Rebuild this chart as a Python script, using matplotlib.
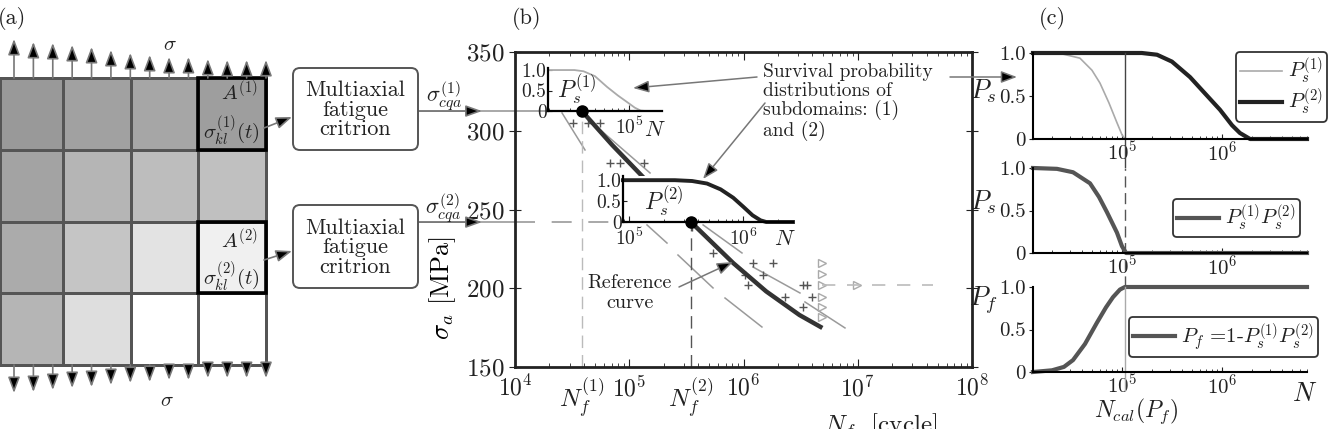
import numpy as np
import matplotlib
matplotlib.use('Agg')
import matplotlib.pyplot as plt
import matplotlib.transforms as mtransforms
from matplotlib.patches import FancyBboxPatch, Rectangle
from matplotlib.ticker import LogLocator, NullFormatter

plt.rcParams['mathtext.fontset'] = 'cm'
plt.rcParams['font.family'] = ['cmr10', 'DejaVu Serif']
plt.rcParams['axes.formatter.use_mathtext'] = True
plt.rcParams['text.color'] = '#222222'
plt.rcParams['xtick.color'] = '#222222'
plt.rcParams['ytick.color'] = '#222222'

# ---- data -------------------------------------------------------------
# (a) grey level of each subdomain, row 0 at the top
cell_grey = [[0.60, 0.63, 0.65, 0.62],
             [0.64, 0.71, 0.74, 0.75],
             [0.67, 0.77, 0.89, 0.94],
             [0.71, 0.87, 1.00, 1.00]]
# length of the load arrows along the top / bottom edge (left to right)
top_load = [39, 36, 35, 33, 31, 28, 25, 23, 21, 21, 19, 18, 18, 18]
bottom_load = [28, 27, 25, 23, 22, 20, 18, 17, 15, 15, 13, 13, 13, 13]

# (b) S-N diagram
ref_N = [3.85e4, 7.08e4, 1.32e5, 2.14e5, 3.47e5, 8.13e5, 1.58e6, 3.09e6, 4.9e6]
ref_sigma = [312.5, 291, 270.6, 256, 242, 216, 198, 183, 174.8]

band_N = [(5.22e4, 1.52e5), (4.43e5, 9.7e5), (1.21e6, 3.12e6), (3.45e6, 7.73e6),
          (2.58e4, 4.1e4), (1.43e5, 2.14e5), (2.67e5, 5.41e5), (6.89e5, 1.45e6)]
band_sigma = [(302.4, 273.2), (240.2, 222.4), (213.5, 197.0), (191.3, 174.8),
              (311.3, 287.8), (240.2, 228.7), (221.1, 200.2), (193.8, 175.4)]

test_N = [3.22e4, 4.36e4, 5.55e4, 6.79e4, 8.3e4, 1.35e5, 3.54e5, 5.41e5, 1.03e6,
          1.09e6, 1.21e6, 1.48e6, 1.81e6, 2.31e6, 3.32e6, 3.6e6, 3.98e6, 3.32e6]
test_sigma = [304.9, 304.9, 304.9, 279.5, 279.5, 279.5, 238.9, 222.4, 208.4,
              202.1, 216.0, 208.4, 216.0, 194.4, 202.1, 202.1, 194.4, 188.1]

runout_N = [4.87e6, 4.87e6, 4.87e6, 4.87e6, 4.87e6, 4.87e6, 9.8e6]
runout_sigma = [216.0, 209.1, 202.1, 194.4, 188.1, 181.7, 202.1]
runout_line_N = [4.9e6, 4.57e7]
runout_line_sigma = [202.1, 202.1]

N_f1, sigma1 = 3.85e4, 312.5
N_f2, sigma2 = 3.47e5, 242.0

# survival probability insets in (b)
ins1_N = [1.95e4, 3.31e4, 3.98e4, 5.01e4, 6.38e4, 7.94e4, 9.55e4, 1.12e5, 1.26e5, 1.38e5, 1.94e5]
ins1_P = [1.0, 1.0, 0.97, 0.85, 0.59, 0.38, 0.22, 0.08, 0.01, 0.0, 0.0]
ins2_N = [8.81e4, 2.51e5, 3.55e5, 4.79e5, 6.31e5, 8.13e5, 1.0e6, 1.2e6, 1.41e6, 1.58e6, 2.71e6]
ins2_P = [1.0, 1.0, 0.98, 0.92, 0.78, 0.58, 0.36, 0.16, 0.04, 0.0, 0.0]

# (c) probabilities
c_xlim = (1.29e4, 7.08e6)
ps1_N = [1.29e4, 2.51e4, 3.8e4, 5.01e4, 6.03e4, 7.41e4, 8.91e4, 1.0e5, 1.07e5, 7.08e6]
ps1 = [1.0, 0.99, 0.94, 0.8, 0.65, 0.42, 0.19, 0.05, 0.0, 0.0]
ps2_N = [1.29e4, 1.58e5, 2.24e5, 3.16e5, 4.79e5, 6.76e5, 9.55e5, 1.26e6, 1.51e6, 1.91e6, 7.08e6]
ps2 = [1.0, 1.0, 0.98, 0.9, 0.72, 0.53, 0.34, 0.16, 0.07, 0.0, 0.0]
prod_N = [1.29e4, 2.24e4, 3.24e4, 4.79e4, 5.89e4, 7.08e4, 8.91e4, 1.0e5, 1.1e5, 7.08e6]
prod = [1.0, 0.99, 0.95, 0.82, 0.66, 0.48, 0.24, 0.08, 0.0, 0.0]
pf_N = [1.29e4, 2.0e4, 2.63e4, 3.24e4, 4.27e4, 5.62e4, 6.92e4, 8.13e4, 9.55e4, 1.07e5, 7.08e6]
pf = [0.0, 0.02, 0.06, 0.14, 0.33, 0.58, 0.76, 0.88, 0.97, 1.0, 1.0]
N_cal = 1.07e5

# ---- figure -----------------------------------------------------------
W, H = 1331, 429
fig = plt.figure(figsize=(W / 100, H / 100), dpi=100)


def rect(x0, y0, x1, y1):
    # pixel box (origin top-left) -> figure fraction
    return [x0 / W, 1 - y1 / H, (x1 - x0) / W, (y1 - y0) / H]


def px_to_N(px):
    # x pixel inside panel (b) -> cycles
    return 10 ** (4 + (px - 515) / (972 - 515) * 4)


# ---- (b) main S-N axes
ax = fig.add_axes(rect(515, 52, 972, 367), zorder=1)
ax.set_xscale('log')
ax.set_xlim(1e4, 1e8)
ax.set_ylim(150, 350)
ax.set_yticks([150, 200, 250, 300, 350])
ax.xaxis.set_major_locator(LogLocator(base=10, numticks=10))
ax.xaxis.set_minor_locator(LogLocator(base=10, subs=np.arange(2, 10), numticks=20))
ax.xaxis.set_minor_formatter(NullFormatter())
for s in ax.spines.values():
    s.set_linewidth(2)
    s.set_color('#222')
ax.tick_params(axis='both', which='both', direction='in', top=True, right=True)
ax.tick_params(axis='y', which='major', direction='inout', length=8, labelsize=18)
ax.tick_params(axis='x', which='major', length=6, labelsize=17, pad=6)
ax.tick_params(axis='x', which='minor', length=3)
ax.set_ylabel(r'$\sigma_a$ [MPa]', fontsize=19)
ax.yaxis.set_label_coords(-0.125, 0.25)

for n, s in zip(band_N, band_sigma):
    ax.plot(n, s, color='#9a9a9a', lw=1.1)
ax.plot(ref_N, ref_sigma, color='#333', lw=3.2, solid_capstyle='butt', zorder=3)
ax.plot(test_N, test_sigma, '+', color='#555', ms=6, mew=1)
ax.plot(runout_N, runout_sigma, '>', mfc='none', mec='#aaa', ms=6, mew=1)
ax.plot(runout_line_N, runout_line_sigma, color='#bbb', lw=1.2, dashes=(8, 7))
ax.plot([N_f1, N_f1], [150, sigma1], color='#bbb', lw=1, dashes=(9, 5))
ax.plot([N_f2, N_f2], [150, sigma2], color='#555', lw=1, dashes=(9, 5))
ax.plot([1e4, N_f1], [sigma1, sigma1], color='#999', lw=1.2)
ax.plot([1e4, N_f2], [sigma2, sigma2], color='#999', lw=1.2, dashes=(12, 10))

blend = mtransforms.blended_transform_factory(fig.transFigure, ax.transData)
head = dict(arrowstyle='-|>,head_length=0.7,head_width=0.25', fc='k', ec='#777',
            lw=1.2, mutation_scale=14, shrinkA=0, shrinkB=0)
for sig in (sigma1, sigma2):
    ax.plot([418 / W, 515 / W], [sig, sig], transform=blend, color='#999', lw=1.2,
            clip_on=False)
    ax.annotate('', xy=(482 / W, sig), xycoords=blend, xytext=(418 / W, sig),
                textcoords=blend, arrowprops=head, annotation_clip=False)

trans_x = mtransforms.blended_transform_factory(ax.transData, ax.transAxes)
ax.text(N_f1, -0.1, r'$N_f^{(1)}$', transform=trans_x, ha='center', va='center', fontsize=18)
ax.text(N_f2, -0.1, r'$N_f^{(2)}$', transform=trans_x, ha='center', va='center', fontsize=18)
ax.text(0.8, -0.14, r'$N_f$  [cycle]', transform=ax.transAxes, ha='center', va='top',
        fontsize=18)

# ---- (b) insets
insets = [((548, 68, 662, 111), 1.05, ins1_N, ins1_P, '#aaa', 1.3, N_f1,
           r'$P_s^{(1)}$', (0.25, 0.5), (0.94, -0.45)),
          ((623, 176, 793, 222), 1.1, ins2_N, ins2_P, '#222', 2.8, N_f2,
           r'$P_s^{(2)}$', (0.24, 0.45), (0.95, -0.38))]
for box, ytop, n, p, col, lw, nf, lab, lab_xy, n_xy in insets:
    ia = fig.add_axes(rect(*box), zorder=2)
    ia.set_facecolor('white')
    ia.set_xscale('log')
    ia.set_xlim(px_to_N(box[0]), px_to_N(box[2]))
    ia.set_ylim(0, ytop)
    ia.plot(n, p, color=col, lw=lw, clip_on=False)
    ia.plot(nf, 0, 'o', color='k', ms=8, clip_on=False, zorder=5)
    ia.spines['top'].set_visible(False)
    ia.spines['right'].set_visible(False)
    ia.spines['left'].set_linewidth(1.6)
    ia.spines['bottom'].set_linewidth(1.6)
    ia.set_yticks([0, 0.5, 1.0])
    ia.set_yticklabels(['0', '0.5', '1.0'])
    ia.xaxis.set_minor_locator(LogLocator(base=10, subs=np.arange(2, 10), numticks=20))
    ia.xaxis.set_minor_formatter(NullFormatter())
    ia.tick_params(axis='both', which='both', direction='in', labelsize=14, pad=1)
    ia.tick_params(axis='x', which='major', length=4, pad=4)
    ia.tick_params(axis='x', which='minor', length=2)
    ia.tick_params(axis='y', length=3)
    ia.text(*lab_xy, lab, transform=ia.transAxes, fontsize=17, ha='center', va='center')
    ia.text(*n_xy, r'$N$', transform=ia.transAxes, fontsize=16, ha='center', va='center')

# ---- (c) probability panels
c_rows = [(53, 139), (168, 253), (287, 372)]
c_axes = [fig.add_axes(rect(1033, t, 1307, b), zorder=1) for t, b in c_rows]
c_axes[0].plot(ps1_N, ps1, color='#aaa', lw=1.2, clip_on=False, label=r'$P_s^{(1)}$')
c_axes[0].plot(ps2_N, ps2, color='#222', lw=3, clip_on=False, label=r'$P_s^{(2)}$')
c_axes[1].plot(prod_N, prod, color='#555', lw=3, clip_on=False,
               label=r'$P_s^{(1)}P_s^{(2)}$')
c_axes[2].plot(pf_N, pf, color='#555', lw=3, clip_on=False,
               label=r'$P_f$ =1-$P_s^{(1)}P_s^{(2)}$')
c_ylabels = [(r'$P_s$', 0.55), (r'$P_s$', 0.6), (r'$P_f$', 0.85)]
c_legend_at = [('upper right', 1327, 52), ('upper left', 1173, 199), ('upper left', 1129, 317)]
c_vline = [('#444', None, -0.34), ('#555', (8, 4), -0.4), ('#aaa', None, -0.21)]
for a, (lab, ly), (loc, lx, lyy), (vc, vd, vmin) in zip(c_axes, c_ylabels, c_legend_at, c_vline):
    a.set_xscale('log')
    a.set_xlim(*c_xlim)
    a.set_ylim(0, 1)
    a.spines['top'].set_visible(False)
    a.spines['right'].set_visible(False)
    a.spines['left'].set_linewidth(1.5)
    a.spines['bottom'].set_linewidth(1.5)
    a.set_yticks([0, 0.5, 1.0])
    a.set_yticklabels(['0', '0.5', '1.0'])
    a.xaxis.set_minor_locator(LogLocator(base=10, subs=np.arange(2, 10), numticks=20))
    a.xaxis.set_minor_formatter(NullFormatter())
    a.tick_params(axis='y', direction='out', length=3, labelsize=15, pad=2)
    a.tick_params(axis='x', which='both', direction='in', labelsize=15, pad=1)
    a.tick_params(axis='x', which='minor', length=2)
    a.text(-0.18, ly, lab, transform=a.transAxes, fontsize=19, ha='center', va='center')
    ln = a.axvline(N_cal, ymin=vmin, ymax=1, color=vc, lw=1, clip_on=False)
    if vd:
        ln.set_dashes(vd)
    leg = a.legend(loc=loc, bbox_to_anchor=(lx / W, 1 - lyy / H), bbox_transform=fig.transFigure,
                   fontsize=15, fancybox=True, edgecolor='#333', framealpha=1,
                   handlelength=2.0, borderpad=0.2, labelspacing=0.05, handletextpad=0.3,
                   borderaxespad=0)
    leg.get_frame().set_linewidth(1.3)

# ---- overlay: panel (a), boxes, annotations
ov = fig.add_axes([0, 0, 1, 1], zorder=5)
ov.set_xlim(0, W)
ov.set_ylim(H, 0)
ov.axis('off')

col_edges = [0, 63, 131, 198, 266]
row_edges = [78, 150, 222, 293, 365]
ov.pcolormesh(col_edges, row_edges, np.array(cell_grey), cmap='gray', vmin=0, vmax=1,
              edgecolors='#555', linewidth=0.8)
ov.add_patch(Rectangle((198, 78), 68, 72, fill=False, lw=2.6, ec='k'))
ov.add_patch(Rectangle((198, 222), 68, 71, fill=False, lw=2.6, ec='k'))

load_arrow = dict(arrowstyle='-|>,head_length=0.8,head_width=0.3', fc='k', ec='#777',
                  lw=1.2, mutation_scale=12, shrinkA=0, shrinkB=0)
for x, lt, lb in zip(np.linspace(14, 266, len(top_load)), top_load, bottom_load):
    ov.annotate('', xy=(x, 78 - lt), xytext=(x, 78), arrowprops=load_arrow)
    ov.annotate('', xy=(x, 365 + lb), xytext=(x, 365), arrowprops=load_arrow)
ov.text(170, 45, r'$\sigma$', fontsize=15, ha='center', va='center')
ov.text(167, 401, r'$\sigma$', fontsize=15, ha='center', va='center')
ov.text(12, 19, '(a)', fontsize=16, ha='center', va='center')
ov.text(527, 18, '(b)', fontsize=16, ha='center', va='center')
ov.text(1052, 18, '(c)', fontsize=16, ha='center', va='center')

ov.text(240, 92, r'$A^{(1)}$', fontsize=15, ha='center', va='center')
ov.text(231, 130, r'$\sigma_{kl}^{(1)}(t)$', fontsize=15, ha='center', va='center')
ov.text(240, 240, r'$A^{(2)}$', fontsize=15, ha='center', va='center')
ov.text(231, 276, r'$\sigma_{kl}^{(2)}(t)$', fontsize=15, ha='center', va='center')

for y0, y1 in [(68, 150), (205, 288)]:
    ov.add_patch(FancyBboxPatch((293, y0), 125, y1 - y0, boxstyle='round,pad=0,rounding_size=7',
                                fc='white', ec='#555', lw=1.4))
    ov.text(355.5, (y0 + y1) / 2 + 1, 'Multiaxial\nfatigue\ncritrion', fontsize=16,
            ha='center', va='center', linespacing=1.0)
ov.annotate('', xy=(292, 117), xytext=(264, 128), arrowprops=load_arrow)
ov.annotate('', xy=(292, 251), xytext=(264, 260), arrowprops=load_arrow)
ov.text(444, 96, r'$\sigma_{cqa}^{(1)}$', fontsize=16, ha='center', va='center')
ov.text(443, 208, r'$\sigma_{cqa}^{(2)}$', fontsize=16, ha='center', va='center')

ov.text(763, 63, 'Survival probability\ndistributions of\nsubdomains: (1)\nand (2)',
        fontsize=14, ha='left', va='top', linespacing=1.05)
ov.text(630, 293, 'Reference\ncurve', fontsize=14.5, ha='center', va='center', linespacing=1.1)
note = dict(arrowstyle='-|>,head_length=0.8,head_width=0.3', fc='k', ec='#777',
            lw=1.1, mutation_scale=12, shrinkA=0, shrinkB=0)
ov.annotate('', xy=(633, 88), xytext=(757, 77), arrowprops=note)
ov.annotate('', xy=(703, 179), xytext=(765, 103), arrowprops=note)
ov.annotate('', xy=(1017, 77), xytext=(950, 77), arrowprops=note)
ov.annotate('', xy=(733, 262), xytext=(679, 287), arrowprops=note)

ov.text(1305, 394, r'$N$', fontsize=19, ha='center', va='center')
ov.text(1136, 411, r'$N_{cal}(P_f)$', fontsize=17, ha='center', va='center')

fig.savefig('out.png', dpi=100)
